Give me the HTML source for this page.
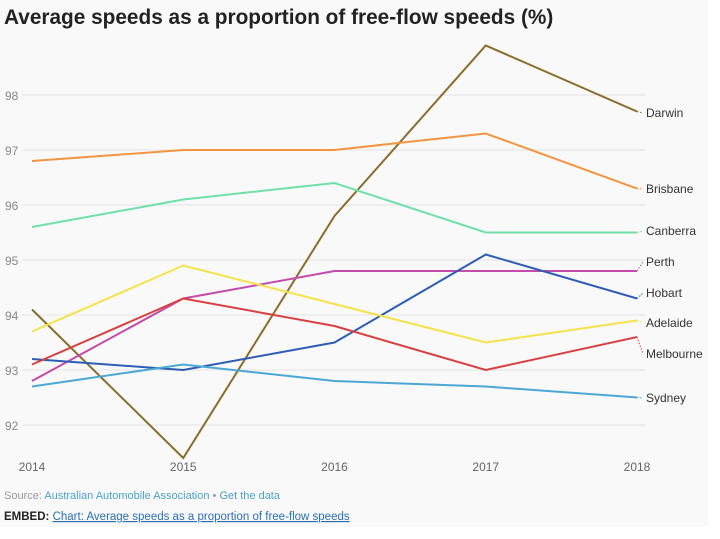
<!DOCTYPE html>
<html><head><meta charset="utf-8"><style>
body{margin:0;width:720px;height:539px;background:#fff;font-family:"Liberation Sans",sans-serif;overflow:hidden}
#wrap{position:absolute;left:0;top:0;width:708px;height:527px;background:#f9f9f9}
</style></head><body>
<div id="wrap">
<svg id="chart" width="708" height="527">
<text x="4" y="24" font-size="20.8" font-weight="bold" fill="#222">Average speeds as a proportion of free-flow speeds (%)</text>
<g id="grid"></g><g id="lines"></g><g id="labels"></g>
<text x="4" y="499" font-size="11" fill="#999">Source: <tspan fill="#4aa3c8">Australian Automobile Association</tspan> • <tspan fill="#4aa3c8">Get the data</tspan></text>
<text x="4" y="520" font-size="11.5" fill="#222"><tspan font-weight="bold">EMBED:</tspan> <tspan fill="#2a6fb5" text-decoration="underline">Chart: Average speeds as a proportion of free-flow speeds</tspan></text>
</svg></div>
<script>
const years=[2014,2015,2016,2017,2018];
const yTicks=[92,93,94,95,96,97,98];
const names=["Darwin","Brisbane","Canberra","Perth","Hobart","Adelaide","Melbourne","Sydney"];
const colors=["#8b6d2a","#f39440","#6ee0a8","#c44aac","#2d5db5","#f5e24a","#d84040","#4aa8d4"];
const darwin=[94.1,91.4,95.8,98.9,97.7];
const brisbane=[96.8,97.0,97.0,97.3,96.3];
const canberra=[95.6,96.1,96.4,95.5,95.5];
const perth=[92.8,94.3,94.8,94.8,94.8];
const hobart=[93.2,93.0,93.5,95.1,94.3];
const adelaide=[93.7,94.9,94.2,93.5,93.9];
const melbourne=[93.1,94.3,93.8,93.0,93.6];
const sydney=[92.7,93.1,92.8,92.7,92.5];
const series=[darwin,brisbane,canberra,perth,hobart,adelaide,melbourne,sydney];
const labelY=[113,189,231,262,293,323,354,398];
const NS="http://www.w3.org/2000/svg";
const x=i=>32+i*151.25;
const y=v=>95+(98-v)*55;
function mk(t,a,p){const e=document.createElementNS(NS,t);for(const k in a)e.setAttribute(k,a[k]);p.appendChild(e);return e;}
const grid=document.getElementById('grid'),lines=document.getElementById('lines'),labels=document.getElementById('labels');
yTicks.forEach(t=>{
 const l=mk('line',{x1:22,x2:645,y1:y(t),y2:y(t),stroke:'#e3e3e3','stroke-width':1},grid);
 
 
 const tx=mk('text',{x:5,y:y(t)+5,'font-size':12,fill:'#888'},grid);tx.textContent=t;
 
 
});
years.forEach((yr,i)=>{
 const tx=mk('text',{x:x(i),y:471,'font-size':12,fill:'#666','text-anchor':'middle'},grid);tx.textContent=yr;
 
 
});
series.forEach((s,k)=>{
 const p=mk('polyline',{points:s.map((v,i)=>x(i)+','+y(v)).join(' '),fill:'none',stroke:colors[k],'stroke-width':2},lines);
 
 
 const ex=x(4),ey=y(s[4]);
 const c=mk('line',{x1:ex,y1:ey,x2:643,y2:labelY[k],stroke:colors[k],'stroke-width':1,'stroke-dasharray':'1.5,1.5'},lines);
 
 
 const t=mk('text',{x:646,y:labelY[k]+4,'font-size':12,fill:'#333'},labels);t.textContent=names[k];
 
 
});
</script>
</body></html>
